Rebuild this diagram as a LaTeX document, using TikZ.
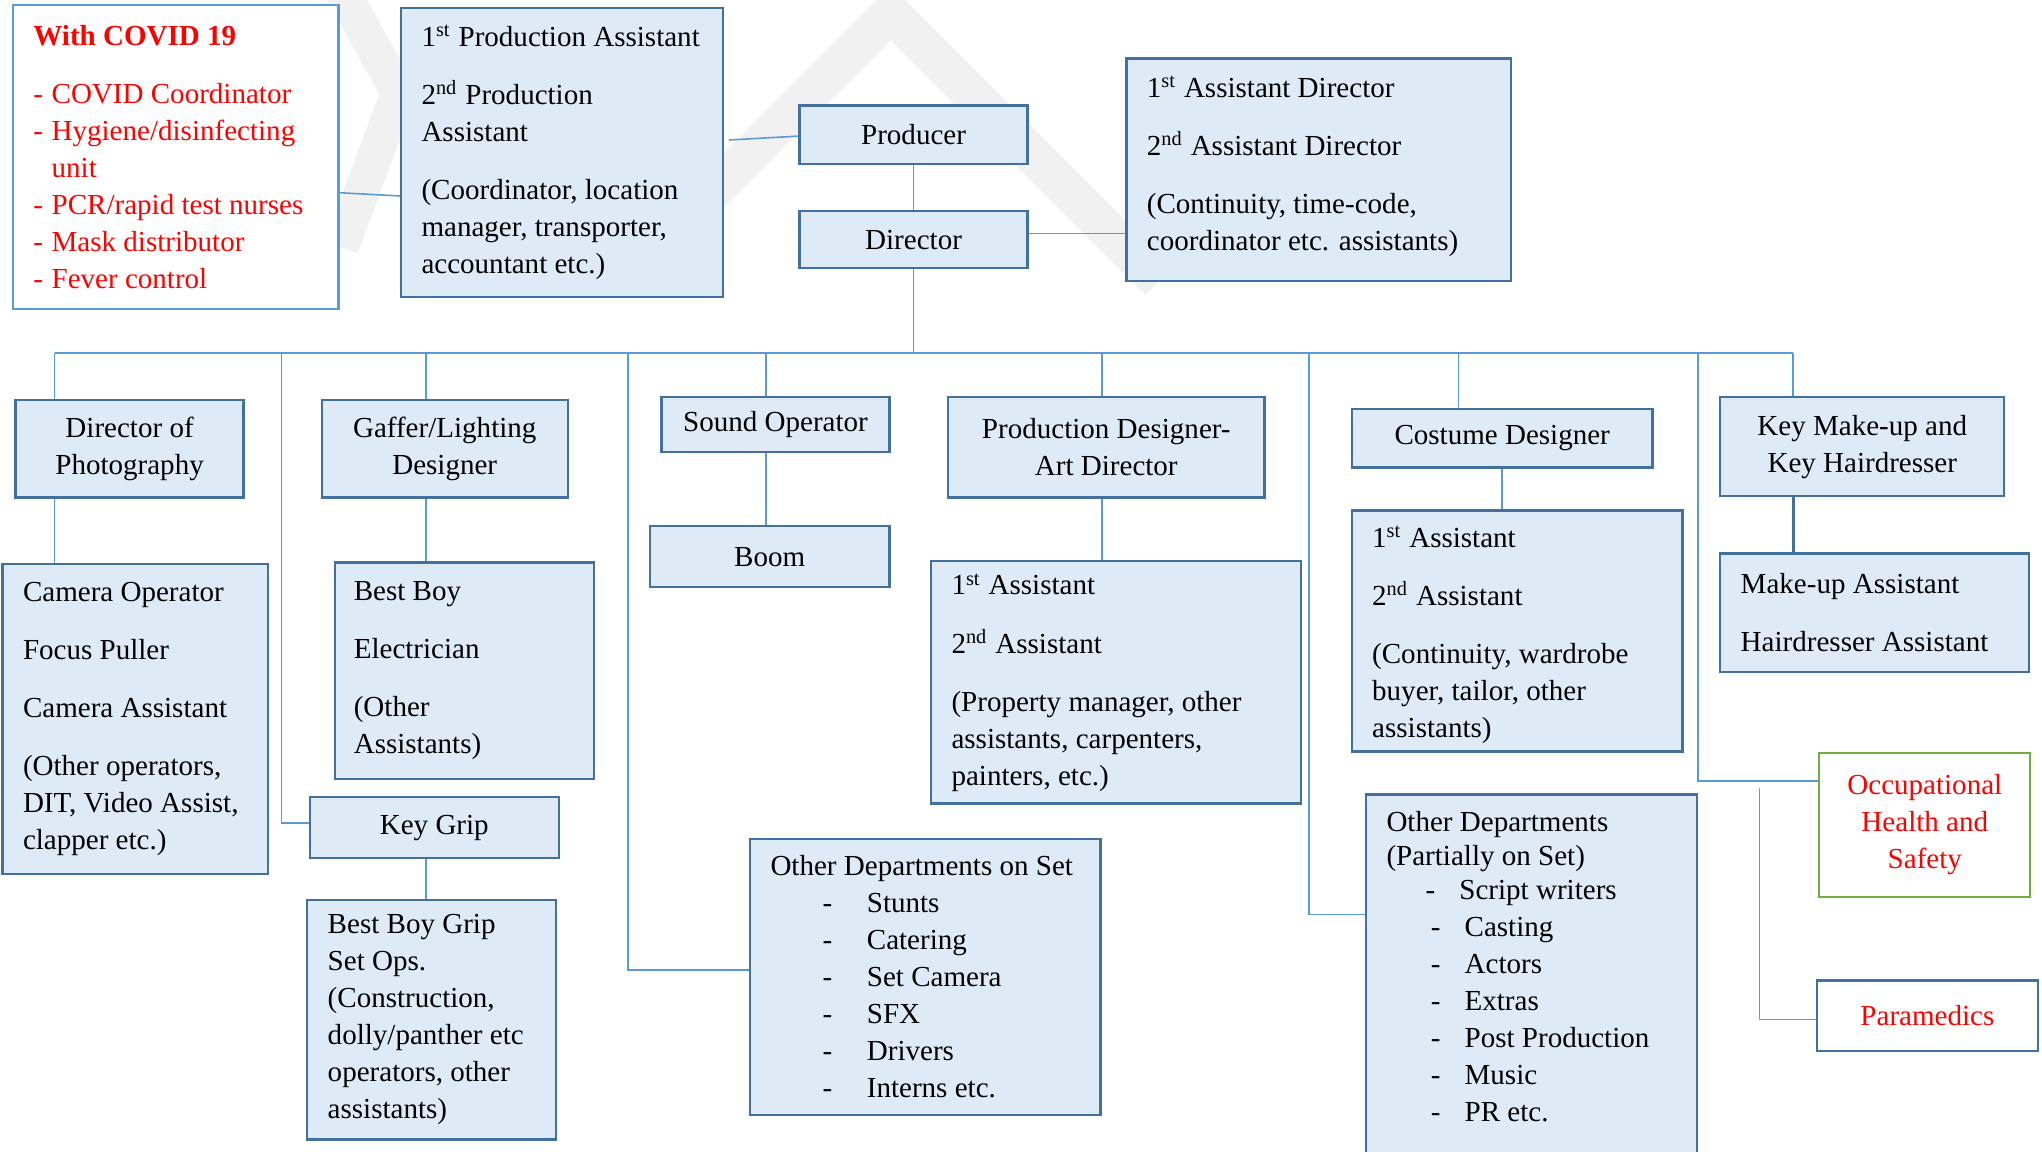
\documentclass[tikz,border=0pt]{standalone}
\usepackage{fontspec}
\setmainfont{Liberation Serif}
\usepackage{tikz}
\usetikzlibrary{calc}

\definecolor{boxfill}{RGB}{222,235,247}
\definecolor{boxline}{RGB}{65,113,156}
\definecolor{linkblue}{RGB}{91,155,213}
\definecolor{ohsgreen}{RGB}{112,173,71}
\definecolor{wmgray}{RGB}{241,241,241}

\newlength{\pxu}
\setlength{\pxu}{0.013cm}
\newcommand{\pgap}{\\[6pt]}
\newcommand{\ditem}[3]{\hspace*{#1\pxu}\makebox[#2\pxu][l]{-}#3}

\begin{document}
\begin{tikzpicture}[x=0.013cm, y=-0.013cm,
  every node/.style={font=\fontsize{8.25pt}{10.5pt}\selectfont},
  span/.style args={#1/#2/#3/#4}{at={({(#1+#3)/2},{(#2+#4)/2})},
    minimum width={(#3-#1)*\pxu}, minimum height={(#4-#2)*\pxu}},
  %
  box/.style={rectangle, draw=boxline, fill=boxfill, line width=0.65pt,
    inner sep=0pt, align=center},
  %
  covid/.style={rectangle, draw=linkblue, fill=white, line width=0.65pt,
    inner sep=0pt},
  %
  ohs/.style={rectangle, draw=ohsgreen, fill=white, line width=0.65pt,
    inner sep=0pt, align=center, text=red},
  %
  medic/.style={rectangle, draw=boxline, fill=white, line width=0.65pt,
    inner sep=0pt, text=red},
  %
  note/.style={anchor=west, align=left, inner sep=0pt},
  link/.style={draw=linkblue, line width=0.45pt},
  linkdark/.style={draw=boxline, line width=0.8pt},
  wmark/.style={draw=wmgray, line width=#1, line join=miter}
  ]

  \useasboundingbox (0,0) rectangle (1568,884);

  % watermark
  \draw[wmark=11pt] (530,164) -- (684,10) -- (890,216);
  \draw[wmark=10pt] (262,-8) -- (306,71) -- (262,190);

  %%%%%%%%%%%%%%%%%%%%%%%%%%%%%%% top
  \node[covid, span=10/4/260/237] (covid) {};
  \node[note, text=red] (covid txt) at ($(covid.west)+(16,0)$) {%
    \textbf{With COVID 19}\pgap
    \makebox[14\pxu][l]{-}COVID Coordinator\\
    \makebox[14\pxu][l]{-}Hygiene/disinfecting\\
    \hspace*{14\pxu}unit\\
    \makebox[14\pxu][l]{-}PCR/rapid test nurses\\
    \makebox[14\pxu][l]{-}Mask distributor\\
    \makebox[14\pxu][l]{-}Fever control};

  \node[box, span=308/6/555/228] (prodasst) {};
  \node[note] (prodasst txt) at ($(prodasst.west)+(16,0)$) {%
    1\textsuperscript{st} Production Assistant\pgap
    2\textsuperscript{nd} Production\\
    Assistant\pgap
    (Coordinator, location\\
    manager, transporter,\\
    accountant etc.)};

  \node[box, span=614/81/789/126] (producer) {Producer};
  \node[box, span=614/162/789/206] (director) {Director};

  \node[box, span=865/45/1160/216] (assistdir) {};
  \node[note] (assistdir txt) at ($(assistdir.west)+(16,-3)$) {%
    1\textsuperscript{st} Assistant Director\pgap
    2\textsuperscript{nd} Assistant Director\pgap
    (Continuity, time-code,\\
    coordinator etc. assistants)};

  %%%%%%%%%%%%%%%%%%%%%%%%%%%%%%% heads of department
  \node[box, span=12/307/187/382] (dop) {Director of\\Photography};
  \node[box, span=247/307/436/382] (gaffer) {Gaffer/Lighting\\Designer};
  \node[box, span=508/305/683/347] (sound) {Sound Operator};
  \node[box, span=728/305/971/382] (proddes) {Production Designer-\\Art Director};
  \node[box, span=1038/314/1269/359] (costume) {Costume Designer};
  \node[box, span=1321/305/1539/381] (keymakeup) {Key Make-up and\\Key Hairdresser};

  %%%%%%%%%%%%%%%%%%%%%%%%%%%%%%% crews
  \node[box, span=2/433/206/671] (camera) {};
  \node[note] (camera txt) at ($(camera.west)+(16,0)$) {%
    Camera Operator\pgap
    Focus Puller\pgap
    Camera Assistant\pgap
    (Other operators,\\
    DIT, Video Assist,\\
    clapper etc.)};

  \node[box, span=257/432/456/598] (bestboy) {};
  \node[note] (bestboy txt) at ($(bestboy.west)+(15,0)$) {%
    Best Boy\pgap
    Electrician\pgap
    (Other\\
    Assistants)};

  \node[box, span=499/404/683/451] (boom) {Boom};

  \node[box, span=715/431/999/617] (artasst) {};
  \node[note] (artasst txt) at ($(artasst.west)+(16,0)$) {%
    1\textsuperscript{st} Assistant\pgap
    2\textsuperscript{nd} Assistant\pgap
    (Property manager, other\\
    assistants, carpenters,\\
    painters, etc.)};

  \node[box, span=1038/392/1292/577] (costasst) {};
  \node[note] (costasst txt) at ($(costasst.west)+(16,3)$) {%
    1\textsuperscript{st} Assistant\pgap
    2\textsuperscript{nd} Assistant\pgap
    (Continuity, wardrobe\\
    buyer, tailor, other\\
    assistants)};

  \node[box, span=1321/425/1558/516] (makeupasst) {};
  \node[note] (makeupasst txt) at ($(makeupasst.west)+(16,0)$) {%
    Make-up Assistant\pgap
    Hairdresser Assistant};

  %%%%%%%%%%%%%%%%%%%%%%%%%%%%%%% grips and other departments
  \node[box, span=238/612/429/659] (keygrip) {Key Grip};

  \node[box, span=236/691/427/875] (bbgrip) {};
  \node[note] (bbgrip txt) at ($(bbgrip.west)+(16,0)$) {%
    Best Boy Grip\\
    Set Ops.\\
    (Construction,\\
    dolly/panther etc\\
    operators, other\\
    assistants)};

  \node[box, span=576/644/845/856] (onset) {};
  \node[note] (onset txt) at ($(onset.west)+(16,0)$) {%
    Other Departments on Set\\
    \ditem{40}{34}{Stunts}\\
    \ditem{40}{34}{Catering}\\
    \ditem{40}{34}{Set Camera}\\
    \ditem{40}{34}{SFX}\\
    \ditem{40}{34}{Drivers}\\
    \ditem{40}{34}{Interns etc.}};

  \node[box, span=1049/610/1303/905] (partial) {};
  \node[note, anchor=north west] (partial txt)
    at ($(partial.north west)+(16,13)$) {%
    Other Departments\\[-0.8pt]
    (Partially on Set)\\[-0.8pt]
    \ditem{30}{26}{Script writers}\\
    \ditem{34}{26}{Casting}\\
    \ditem{34}{26}{Actors}\\
    \ditem{34}{26}{Extras}\\
    \ditem{34}{26}{Post Production}\\
    \ditem{34}{26}{Music}\\
    \ditem{34}{26}{PR etc.}};

  \node[ohs, span=1397/578/1559/689] (ohs) {Occupational\\Health and\\Safety};
  \node[medic, span=1395/753/1565/807] (paramedics) {Paramedics};

  %%%%%%%%%%%%%%%%%%%%%%%%%%%%%%% connectors
  \coordinate (bus west) at (42,271);
  \coordinate (b-grip) at (216,271);
  \coordinate (b-gaffer) at (327,271);
  \coordinate (b-onset) at (482,271);
  \coordinate (b-sound) at (588,271);
  \coordinate (b-proddes) at (846,271);
  \coordinate (b-partial) at (1005,271);
  \coordinate (b-costume) at (1120,271);
  \coordinate (b-ohs) at (1304,271);
  \coordinate (bus east) at (1377,271);
  \coordinate (medic top) at (1351,605);
  \coordinate (dir out) at ($(director.east)+(0,-4.6)$);

  \draw[link] ($(covid.east)+(0,27.5)$) -- ($(prodasst.west)+(0,33.5)$);
  \draw[link] ($(prodasst.east)+(4,-9.5)$) -- ($(producer.west)+(0,1)$);
  \draw[link] (producer) -- (director);
  \draw[link] (dir out) -- (dir out -| assistdir.west);
  \draw[link] (director.south) -- (director.south |- bus west);
  \draw[link] (bus west) -- (bus east);

  \draw[link] (bus west) -- (bus west |- dop.north);
  \draw[link] (b-gaffer) -- (b-gaffer |- gaffer.north);
  \draw[link] (b-sound) -- (b-sound |- sound.north);
  \draw[link] (b-proddes) -- (b-proddes |- proddes.north);
  \draw[link] (b-costume) -- (b-costume |- costume.north);
  \draw[link] (bus east) -- (bus east |- keymakeup.north);

  \draw[link] (b-grip) |- ($(keygrip.west)+(0,-3.5)$);
  \draw[link] (b-onset) |- ($(onset.west)+(0,-5)$);
  \draw[link] (b-partial) |- ($(partial.north west)+(0,93)$);
  \draw[link] (b-ohs) |- ($(ohs.north west)+(0,22.5)$);
  \draw[link] (medic top) |- ($(paramedics.west)+(0,3)$);

  \draw[link] (dop.south -| bus west) -- (camera.north -| bus west);
  \draw[link] (gaffer.south -| b-gaffer) -- (bestboy.north -| b-gaffer);
  \draw[link] (sound.south -| b-sound) -- (boom.north -| b-sound);
  \draw[link] (proddes.south -| b-proddes) -- (artasst.north -| b-proddes);
  \draw[link] (costume.south) -- (costume.south |- costasst.north);
  \draw[linkdark] (keymakeup.south -| bus east) -- (makeupasst.north -| bus east);
  \draw[link] ($(keygrip.south)+(-6.5,0)$) -- ($(bbgrip.north)+(-4.5,0)$);

\end{tikzpicture}
\end{document}
